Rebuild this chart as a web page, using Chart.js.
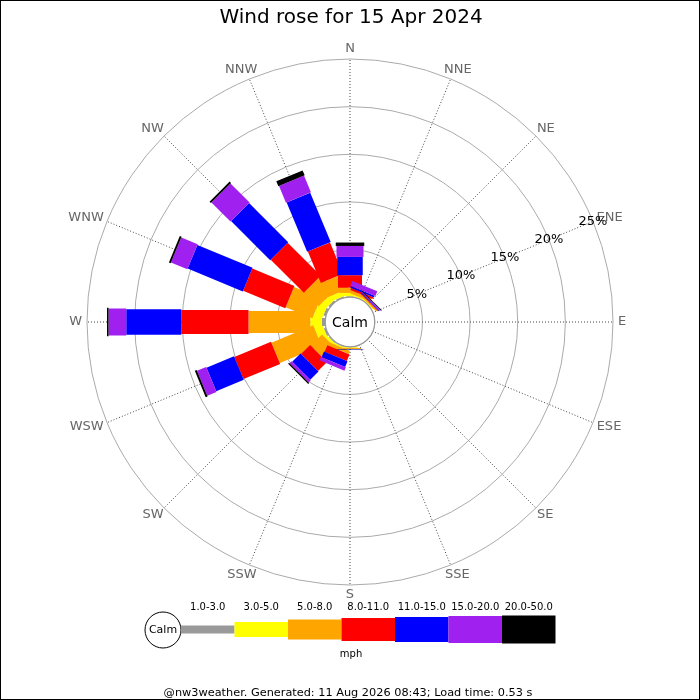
<!DOCTYPE html>
<html><head><meta charset="utf-8">
<script src="https://cdn.jsdelivr.net/npm/chart.js@4"></script>
<style>html,body{margin:0;padding:0;background:#fff}canvas{display:block}</style>
</head><body>
<canvas id="c" width="700" height="700"></canvas>
<script>
// ---------------- data ----------------
const chartTitle = 'Wind rose for 15 Apr 2024';
const directions = ['N','NNE','NE','ENE','E','ESE','SE','SSE','S','SSW','SW','WSW','W','WNW','NW','NNW'];
const speedBins = ['1.0-3.0','3.0-5.0','5.0-8.0','8.0-11.0','11.0-15.0','15.0-20.0','20.0-50.0'];
const speedUnit = 'mph';
const calmLabel = 'Calm';
const tickValues = [5, 10, 15, 20, 25];
// percentage of time per direction (N..NNW) for each speed bin
const bin1to3   = [0.10,0.05,0.03,0,0,0,0,0,0.05,0.05,0.10,0.20,0.35,0.25,0.20,0.15];
const bin3to5   = [0.35,0.15,0.10,0,0,0,0,0,0.08,0.15,0.30,0.90,1.22,0.95,0.70,0.55];
const bin5to8   = [0.55,0.32,0.15,0,0,0,0,0,0.10,0.36,1.66,4.75,6.48,3.03,2.09,1.65];
const bin8to11  = [1.31,0.21,0.08,0,0,0,0,0,0.00,0.75,1.35,4.17,7.06,4.79,4.92,3.57];
const bin11to15 = [1.92,0.21,0.10,0,0,0,0,0,0.05,0.65,1.23,3.13,5.77,6.27,5.81,5.62];
const bin15to20 = [1.15,0.53,0.09,0,0,0,0,0,0.00,0.38,0.31,1.05,1.86,1.86,2.83,1.90];
const bin20to50 = [0.36,0.00,0.08,0,0,0,0,0,0.02,0.00,0.14,0.21,0.16,0.20,0.20,0.56];
const footerText = '@nw3weather. Generated: 11 Aug 2026 08:43; Load time: 0.53 s';

// ---------------- styles ----------------
const binColors = ['#999999','#ffff00','#ffa500','#ff0000','#0000ff','#a020f0','#000000'];
const barWidths = [8, 14, 22, 24, 25.5, 27, 28.5];
const legendHeights = [8, 15, 20, 23, 25, 27, 28];
const FONT = '"DejaVu Sans", Verdana, sans-serif';

const binSeries = [bin1to3, bin3to5, bin5to8, bin8to11, bin11to15, bin15to20, bin20to50];

const windRosePlugin = {
  id: 'windRose',
  afterDatasetsDraw(chart) {
    const ctx = chart.ctx, s = chart.scales.r;
    const sets = chart.data.datasets;
    for (let k = 0; k < sets.length; k++) {
      for (let i = directions.length - 1; i >= 0; i--) {
        const v = sets[k].data[i];
        if (!(v > 0)) continue;
        let base = 0;
        for (let j = 0; j < k; j++) base += sets[j].data[i];
        const r0 = s.getDistanceFromCenterForValue(base);
        const r1 = s.getDistanceFromCenterForValue(base + v);
        const ang = s.getIndexAngle(i) - Math.PI / 2;
        const w = barWidths[k];
        ctx.save();
        ctx.translate(s.xCenter, s.yCenter);
        ctx.rotate(ang);
        ctx.fillStyle = sets[k].backgroundColor;
        ctx.fillRect(r0, -w / 2, r1 - r0, w);
        ctx.restore();
      }
    }
    const rc = s.getDistanceFromCenterForValue(0);
    ctx.save();
    ctx.beginPath();
    ctx.arc(s.xCenter, s.yCenter, rc, 0, Math.PI * 2);
    ctx.fillStyle = '#ffffff';
    ctx.fill();
    ctx.lineWidth = 1.2;
    ctx.strokeStyle = '#999999';
    ctx.stroke();
    ctx.fillStyle = '#000';
    ctx.font = '14px ' + FONT;
    ctx.textAlign = 'center';
    ctx.textBaseline = 'middle';
    ctx.fillText(calmLabel, s.xCenter, s.yCenter + 1);
    ctx.restore();
  },
  afterDraw(chart) {
    const ctx = chart.ctx, s = chart.scales.r;
    ctx.save();
    ctx.textAlign = 'center';
    ctx.textBaseline = 'middle';
    // direction labels: nearest edge of the text box sits on a fixed radius
    ctx.font = '13px ' + FONT;
    ctx.fillStyle = '#666666';
    directions.forEach((d, i) => {
      const p = s.getPointPosition(i, s.drawingArea + 5);
      const a = s.getIndexAngle(i);
      const tw = ctx.measureText(d).width;
      const x = p.x + (tw / 2) * Math.sin(a);
      const y = p.y - 5 * Math.cos(a);
      ctx.fillText(d, x, y);
    });
    // ring labels along ENE
    ctx.fillStyle = '#000';
    tickValues.forEach(v => {
      const p = s.getPointPositionForValue(3, v);
      ctx.fillText(v + '%', p.x, p.y);
    });
    // title
    ctx.font = '20px ' + FONT;
    ctx.fillStyle = '#000';
    ctx.fillText(chartTitle, 351, 18);
    // legend
    const ly = 629.5;
    ctx.beginPath();
    ctx.arc(163, 630, 18, 0, Math.PI * 2);
    ctx.fillStyle = '#fff';
    ctx.fill();
    ctx.lineWidth = 1;
    ctx.strokeStyle = '#000';
    ctx.stroke();
    ctx.fillStyle = '#000';
    ctx.font = '11px ' + FONT;
    ctx.fillText(calmLabel, 163, 630.5);
    const x0 = 181, bw = 53.5;
    ctx.font = '10px ' + FONT;
    speedBins.forEach((lab, k) => {
      const h = legendHeights[k];
      ctx.fillStyle = binColors[k];
      ctx.fillRect(x0 + k * bw, ly - h / 2, bw, h);
      ctx.fillStyle = '#000';
      ctx.fillText(lab, x0 + k * bw + bw / 2, 607);
    });
    ctx.fillText(speedUnit, 351, 654);
    ctx.font = '11.3px ' + FONT;
    ctx.fillText(footerText, 348, 693);
    // frame
    ctx.strokeStyle = '#000';
    ctx.lineWidth = 1;
    ctx.strokeRect(0.5, 0.5, 699, 699);
    ctx.restore();
  }
};

new Chart(document.getElementById('c'), {
  type: 'radar',
  data: {
    labels: directions,
    datasets: binSeries.map((d, k) => ({
      label: speedBins[k],
      data: d,
      backgroundColor: binColors[k],
      borderColor: 'rgba(0,0,0,0)',
      borderWidth: 0,
      pointRadius: 0,
      pointHoverRadius: 0,
      fill: false,
      showLine: false
    }))
  },
  options: {
    responsive: false,
    animation: false,
    events: [],
    layout: { padding: { left: 87, right: 87, top: 59, bottom: 115 } },
    plugins: { legend: { display: false }, tooltip: { enabled: false }, title: { display: false } },
    scales: {
      r: {
        min: -2.6,
        max: 25,
        startAngle: 0,
        afterBuildTicks: (scale) => {
          scale.ticks = [{ value: -2.6 }, { value: 0 }].concat(tickValues.map(v => ({ value: v })));
        },
        ticks: { display: false },
        pointLabels: { display: false },
        grid: { circular: true, color: '#aaaaaa', lineWidth: 1 },
        angleLines: { display: true, color: '#444444', lineWidth: 1, borderDash: [1, 2] }
      }
    }
  },
  plugins: [windRosePlugin]
});
</script>
</body></html>
